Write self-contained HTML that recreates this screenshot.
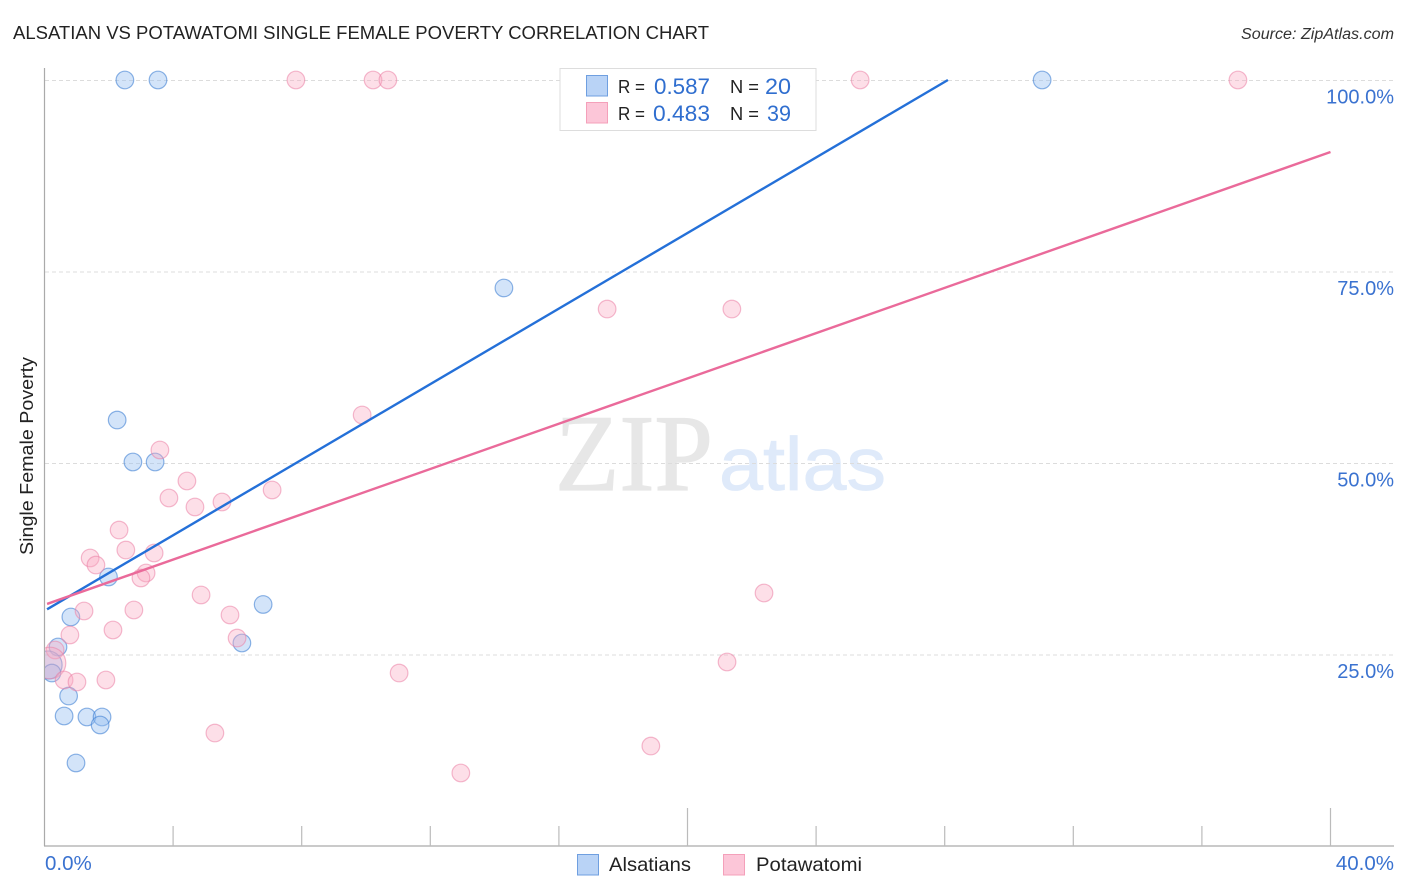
<!DOCTYPE html>
<html lang="en">
<head>
<meta charset="utf-8">
<title>Alsatian vs Potawatomi Single Female Poverty Correlation Chart</title>
<style>
html,body{margin:0;padding:0;background:#fff;width:1406px;height:892px;overflow:hidden}
svg{display:block;font-family:"Liberation Sans",sans-serif}
</style>
</head>
<body>
<svg id="chart" xmlns="http://www.w3.org/2000/svg" width="1406" height="892" viewBox="0 0 1406 892">
  <defs><clipPath id="plot-clip"><rect x="45" y="60" width="1350" height="786"/></clipPath></defs>
  <text x="13" y="39" font-size="18.5" fill="#222" textLength="696" lengthAdjust="spacingAndGlyphs">ALSATIAN VS POTAWATOMI SINGLE FEMALE POVERTY CORRELATION CHART</text>
  <text x="1241" y="39" font-size="15.5" font-style="italic" fill="#333" textLength="153" lengthAdjust="spacingAndGlyphs">Source: ZipAtlas.com</text>
  <text transform="translate(33,555) rotate(-90)" font-size="18.5" fill="#222" textLength="198" lengthAdjust="spacingAndGlyphs">Single Female Poverty</text>
  <g>
    <text x="555" y="490" font-family="'Liberation Serif',serif" font-size="109" fill="#e7e7e7" stroke="#e7e7e7" stroke-width="1.2" textLength="158" lengthAdjust="spacingAndGlyphs">ZIP</text>
    <text x="719" y="490" font-size="75" fill="#dfeafa" stroke="#dfeafa" stroke-width="0.8" textLength="167" lengthAdjust="spacingAndGlyphs">atlas</text>
  </g>
  <g id="grid"></g>
  <g id="axes"></g>
  <g id="points" clip-path="url(#plot-clip)"></g>
  <g id="trends"></g>
  <g id="ylabels"></g>
  <g id="xlabels"></g>

  <g>
    <rect x="560" y="68.5" width="256" height="62" fill="#fff" stroke="#ddd" stroke-width="1"/>
    <rect x="586.5" y="75.5" width="21" height="20.5" fill="#b9d3f6" stroke="#6f9fe0"/>
    <rect x="586.5" y="102.5" width="21" height="20.5" fill="#fcc6d8" stroke="#f4a0ba"/>
    <text x="618" y="93" font-size="18.5" fill="#222" textLength="27" lengthAdjust="spacingAndGlyphs">R =</text>
    <text x="654" y="94" font-size="22" fill="#2f6ecf" textLength="56" lengthAdjust="spacingAndGlyphs">0.587</text>
    <text x="730" y="93" font-size="18.5" fill="#222" textLength="29" lengthAdjust="spacingAndGlyphs">N =</text>
    <text x="765" y="94" font-size="22" fill="#2f6ecf" textLength="26" lengthAdjust="spacingAndGlyphs">20</text>
    <text x="618" y="120" font-size="18.5" fill="#222" textLength="27" lengthAdjust="spacingAndGlyphs">R =</text>
    <text x="653" y="121" font-size="22" fill="#2f6ecf" textLength="57" lengthAdjust="spacingAndGlyphs">0.483</text>
    <text x="730" y="120" font-size="18.5" fill="#222" textLength="29" lengthAdjust="spacingAndGlyphs">N =</text>
    <text x="767" y="121" font-size="22" fill="#2f6ecf" textLength="24" lengthAdjust="spacingAndGlyphs">39</text>
  </g>

  <g>
    <rect x="577.5" y="854.5" width="21" height="20.5" fill="#b9d3f6" stroke="#6f9fe0"/>
    <text x="609" y="871" font-size="19.5" fill="#222" textLength="82" lengthAdjust="spacingAndGlyphs">Alsatians</text>
    <rect x="723.5" y="854.5" width="21" height="20.5" fill="#fcc6d8" stroke="#f4a0ba"/>
    <text x="756" y="871" font-size="19.5" fill="#222" textLength="106" lengthAdjust="spacingAndGlyphs">Potawatomi</text>
  </g>
</svg>
<script>
// ---- chart data (percent values) ----
var alsatianX = [2.50,3.53,31.03,14.29,2.26,2.75,3.44,1.99,6.80,0.82,6.14,0.42,0.11,0.23,0.75,0.61,1.32,1.79,1.73,0.98];
var alsatianY = [100,100,100,72.85,55.61,50.13,50.13,35.12,31.53,29.90,26.50,25.98,23.63,22.58,19.58,16.97,16.84,16.84,15.80,10.84];
var alsatianWeight = [1,1,1,1,1,1,1,1,1,1,1,1,1.6,1,1,1,1,1,1,1];
var potawatomiX = [7.82,10.22,10.68,25.37,37.12,17.50,21.38,9.88,3.59,4.43,3.87,4.68,5.52,7.08,2.32,2.53,1.42,1.60,3.41,3.16,3.00,1.23,2.78,4.87,5.77,2.13,0.79,5.99,22.38,21.23,0.33,0.17,0.61,1.01,1.91,11.03,5.30,18.86,12.95];
var potawatomiY = [100,100,100,100,100,70.10,70.10,56.27,51.70,47.65,45.43,44.26,44.91,46.48,41.25,38.64,37.60,36.68,38.25,35.64,34.99,30.68,30.81,32.77,30.16,28.20,27.55,27.15,33.03,24.02,25.59,23.89,21.67,21.41,21.67,22.58,14.75,13.05,9.53];
var potawatomiWeight = [1,1,1,1,1,1,1,1,1,1,1,1,1,1,1,1,1,1,1,1,1,1,1,1,1,1,1,1,1,1,1,1.8,1,1,1,1,1,1,1];
var alsatianTrendX = [0.08,28.1];
var alsatianTrendY = [30.9,100];
var potawatomiTrendX = [0.08,40];
var potawatomiTrendY = [31.6,90.6];
var yTicks = [25,50,75,100];
var yTickLabels = ["25.0%","50.0%","75.0%","100.0%"];
var xTicks = [4,8,12,16,20,24,28,32,36,40];
var xEndTickLabels = ["0.0%","40.0%"];

// ---- axis functions ----
function xScale(v){ return 44.5 + v * 32.15; }
function yScale(v){ return 846 - v * 7.66; }

var NS = 'http://www.w3.org/2000/svg';
function make(tag, attrs, parent){
  var el = document.createElementNS(NS, tag);
  for (var k in attrs) el.setAttribute(k, attrs[k]);
  parent.appendChild(el);
  return el;
}

var grid = document.getElementById('grid');
var axes = document.getElementById('axes');
var ylabels = document.getElementById('ylabels');
var xlabels = document.getElementById('xlabels');
var points = document.getElementById('points');
var trends = document.getElementById('trends');

yTicks.forEach(function(t, i){
  var line = make('line', {x1:45, x2:1393, y1:yScale(t)+0.5, y2:yScale(t)+0.5, stroke:'#dcdcdc', 'stroke-width':1, 'stroke-dasharray':'4 3'}, grid);
  
  
  var label = make('text', {x:1394, y:yScale(t)+23.5, 'text-anchor':'end', 'font-size':20, fill:'#3a72d0'}, ylabels);
  label.textContent = yTickLabels[i];
  
  
});

var yAxis = make('line', {x1:44.5, x2:44.5, y1:68, y2:846, stroke:'#aaa', 'stroke-width':1.2}, axes);


var xAxis = make('line', {x1:44, x2:1394, y1:846, y2:846, stroke:'#aaa', 'stroke-width':1.2}, axes);



xTicks.forEach(function(t){
  var top = (t === 20 || t === 40) ? 808 : 826;
  var tick = make('line', {x1:xScale(t), x2:xScale(t), y1:top, y2:846, stroke:'#bbb', 'stroke-width':1.2}, axes);
  
  
});

var x0Label = make('text', {x:45, y:870, 'font-size':20.5, fill:'#3a72d0'}, xlabels);
x0Label.textContent = xEndTickLabels[0];


var x1Label = make('text', {x:1394, y:870, 'text-anchor':'end', 'font-size':20.5, fill:'#3a72d0'}, xlabels);
x1Label.textContent = xEndTickLabels[1];



alsatianX.forEach(function(v, i){
  var c = make('circle', {cx:xScale(v), cy:yScale(alsatianY[i]), r:8.8*alsatianWeight[i], fill:'rgba(150,190,240,0.42)', stroke:'rgba(60,125,210,0.58)', 'stroke-width':1.2}, points);
  
  
});
potawatomiX.forEach(function(v, i){
  var c = make('circle', {cx:xScale(v), cy:yScale(potawatomiY[i]), r:8.8*potawatomiWeight[i], fill:'rgba(250,170,195,0.38)', stroke:'rgba(235,130,165,0.55)', 'stroke-width':1.2}, points);
  
  
});

var blueLine = make('line', {x1:xScale(alsatianTrendX[0]), y1:yScale(alsatianTrendY[0]), x2:xScale(alsatianTrendX[1]), y2:yScale(alsatianTrendY[1]), stroke:'#2470d8', 'stroke-width':2.4}, trends);


var pinkLine = make('line', {x1:xScale(potawatomiTrendX[0]), y1:yScale(potawatomiTrendY[0]), x2:xScale(potawatomiTrendX[1]), y2:yScale(potawatomiTrendY[1]), stroke:'#ea6a9a', 'stroke-width':2.4}, trends);


</script>
</body>
</html>
